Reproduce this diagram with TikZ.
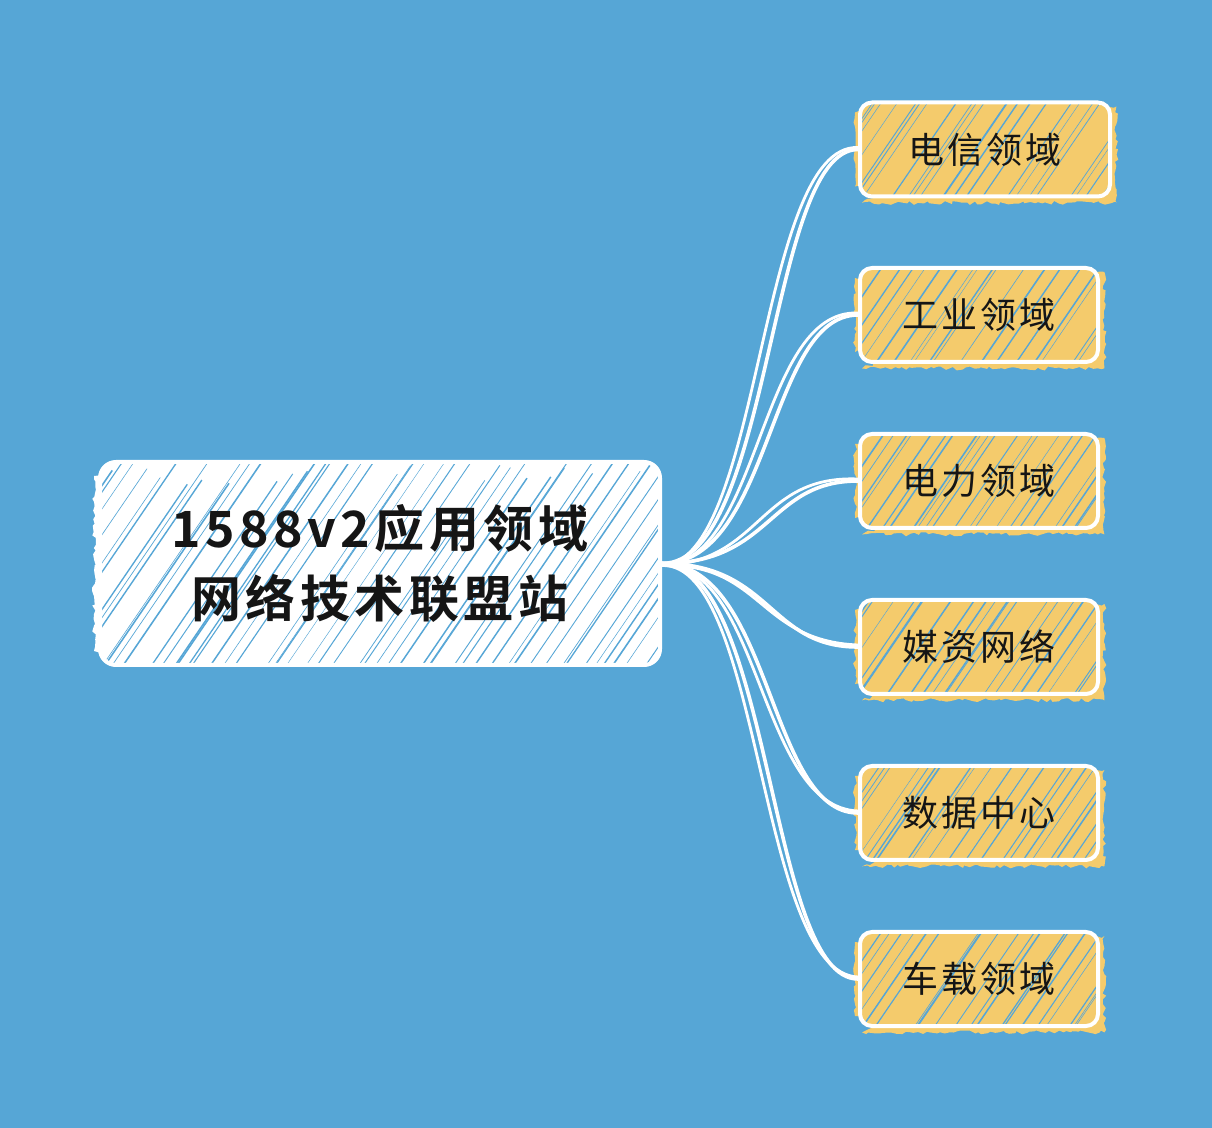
\documentclass[tikz,border=0pt]{standalone}
\usepackage{fontspec}
\usetikzlibrary{backgrounds,decorations.pathmorphing}
\newfontfamily\cjkbig[LetterSpace=9,BoldFont={Noto Sans CJK SC Bold}]{Noto Sans CJK SC}
\newfontfamily\cjksmall[LetterSpace=9]{Noto Sans CJK SC}
\definecolor{bgblue}{HTML}{56A6D6}
\definecolor{leafyel}{HTML}{F4CB6C}
\definecolor{inkblk}{HTML}{151515}
\tikzset{
  hatch/.style={path picture={
    \pgfmathsetseed{#1}
    \foreach \i in {-12,...,48}{
      \draw[bgblue, line width={0.2pt+0.6pt*rnd}]
        ([xshift={\i*6.5pt+3pt*rnd}, yshift={-20pt*rnd}]path picture bounding box.south west) -- ++(75pt,110pt);
    }}},
  rootbox/.style={rectangle, rounded corners=8pt, draw=white, line width=2pt,
    fill=white, hatch=7, minimum width=280pt, minimum height=101.5pt,
    align=center, text=inkblk, inner sep=0pt,
    font=\cjkbig\bfseries\fontsize{25pt}{35pt}\selectfont},
  leafbox/.style={rectangle, rounded corners=6pt, draw=white, line width=2pt,
    fill=leafyel, hatch=#1, minimum width=119pt, minimum height=47pt,
    text=inkblk, inner sep=0pt,
    font=\cjksmall\fontsize{18pt}{20pt}\selectfont},
  conn/.style={draw=white, line width=1.8pt, line cap=round},
  jag/.style={decorate, decoration={random steps, segment length=2pt, amplitude=1pt}},
}
\begin{document}
\begin{tikzpicture}[x=0.5pt,y=-0.5pt]
\useasboundingbox (0,0) rectangle (1212,1128);
% nodes
\node[rootbox] (root) at (380,563.5) {1588v2应用领域\\网络技术联盟站};
\node[leafbox=11, minimum width=125pt] (l1) at (985,149.5) {电信领域};
\node[leafbox=12] (l2) at (979,315) {工业领域};
\node[leafbox=13] (l3) at (979,481) {电力领域};
\node[leafbox=14] (l4) at (979,647) {媒资网络};
\node[leafbox=15] (l5) at (979,813) {数据中心};
\node[leafbox=16] (l6) at (979,979) {车载领域};
\begin{scope}[on background layer]
  \fill[bgblue] (0,0) rectangle (1212,1128);
  % sketchy fill overshoot
  \pgfmathsetseed{3}
  \foreach \n in {l1,l2,l3,l4,l5,l6}{
    \fill[leafyel, jag] ([shift={(2pt,-2.2pt)}]\n.south west) -- ([shift={(2.2pt,-2.2pt)}]\n.south east) -- ([shift={(2.2pt,-3pt)}]\n.north east) -- ([shift={(-2pt,-3pt)}]\n.north east) -- cycle;
    \fill[leafyel, jag] ([shift={(-1.5pt,6pt)}]\n.south west) -- ([shift={(-1.5pt,-6pt)}]\n.north west) -- ([shift={(3pt,-6pt)}]\n.north west) -- ([shift={(3pt,6pt)}]\n.south west) -- cycle;
  }
  \fill[white, jag] ([shift={(-2pt,8pt)}]root.south west) -- ([shift={(-2pt,-8pt)}]root.north west) -- ([shift={(4pt,-8pt)}]root.north west) -- ([shift={(4pt,8pt)}]root.south west) -- cycle;
  % connectors (doubled strokes)
  \foreach \n in {l1,l2,l3,l4,l5,l6}{
    \draw[conn] (root.east) .. controls +(110,0) and +(-90,0) .. (\n.west);
    \draw[conn, line width=1.4pt] ([yshift=-1pt]root.east) .. controls +(100,-3) and +(-100,-4) .. ([yshift=1pt]\n.west);
  }
\end{scope}
\end{tikzpicture}
\end{document}
